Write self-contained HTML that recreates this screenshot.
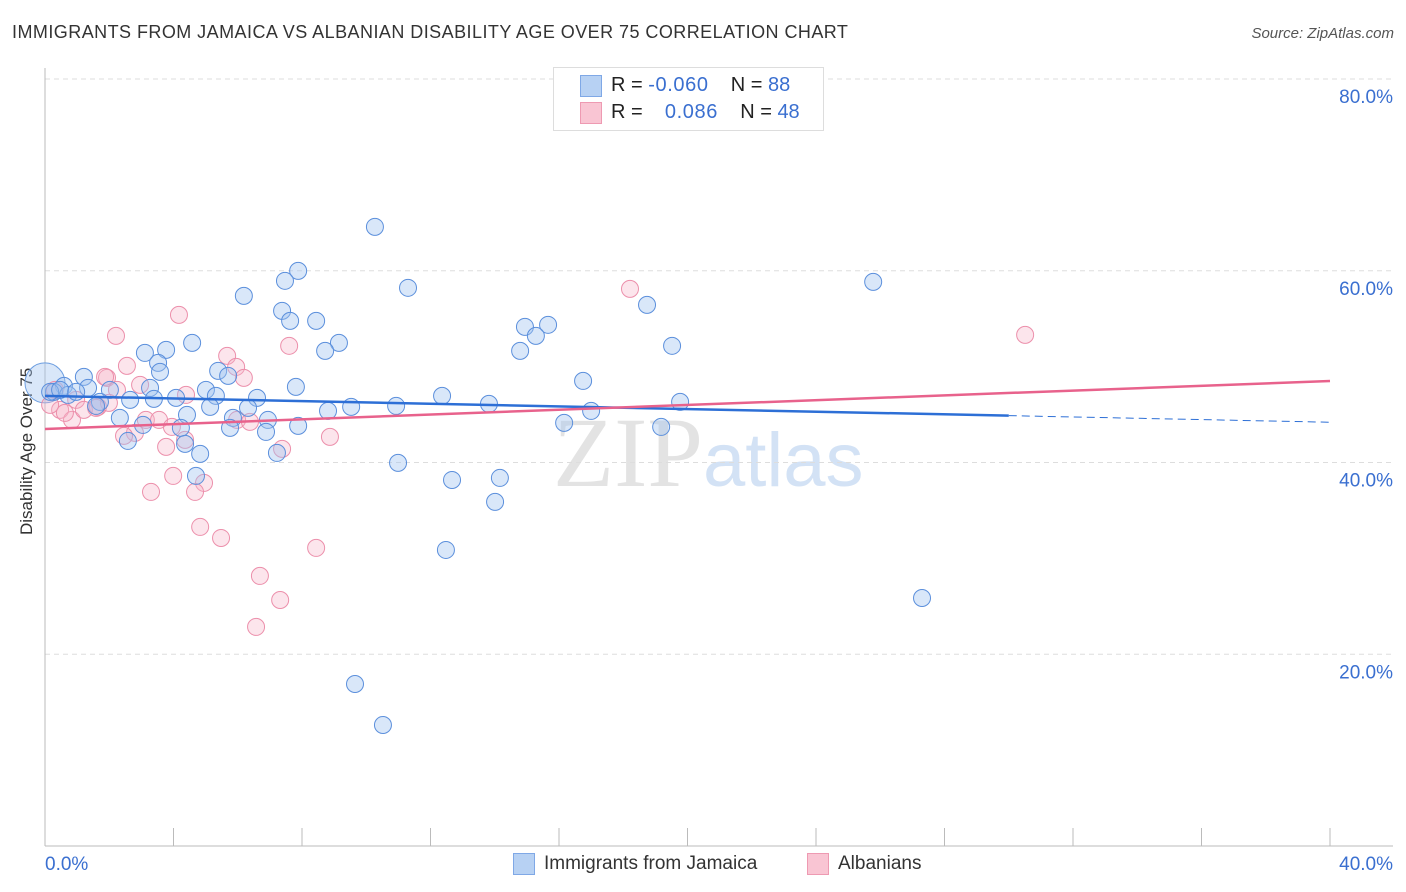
<!DOCTYPE html>
<html><head><meta charset="utf-8"><style>
body{margin:0;background:#fff;font-family:"Liberation Sans",sans-serif;}
#wrap{position:relative;width:1406px;height:892px;overflow:hidden;}
.t{position:absolute;white-space:nowrap;}
</style></head><body>
<div id="wrap">
<div class="t" style="left:12px;top:22px;font-size:18px;color:#333;letter-spacing:0.45px;">IMMIGRANTS FROM JAMAICA VS ALBANIAN DISABILITY AGE OVER 75 CORRELATION CHART</div>
<div class="t" style="right:12px;top:25px;font-size:15px;color:#555;font-style:italic;">Source: ZipAtlas.com</div>
<div class="t" style="left:-53px;top:445px;font-size:17px;color:#333;transform:rotate(-90deg);width:160px;text-align:center;">Disability Age Over 75</div>
<div class="t" style="left:553px;top:395px;font-size:100px;color:#e3e3e3;font-family:'Liberation Serif',serif;">ZIP<span style="font-family:'Liberation Sans',sans-serif;font-size:76px;color:#d3e2f5">atlas</span></div>
<svg id="svg" width="1406" height="892" style="position:absolute;left:0;top:0"></svg>
<div class="t" style="left:553px;top:67px;width:269px;height:62px;border:1px solid #ddd;background:#fff;"></div>
<div style="position:absolute;left:580px;top:75px;width:20px;height:20px;background:#b7d1f3;border:1px solid #7fa8e6;"></div>
<div style="position:absolute;left:580px;top:102px;width:20px;height:20px;background:#f9c5d3;border:1px solid #ee9ab2;"></div>
<div class="t" style="left:611px;top:74px;font-size:20px;color:#222;">R = <span style="color:#3a6fd0;letter-spacing:0.6px">-0.060</span>&nbsp;&nbsp;&nbsp;&nbsp;N = <span style="color:#3a6fd0">88</span></div>
<div class="t" style="left:611px;top:101px;font-size:20px;color:#222;">R = &nbsp;&nbsp;&nbsp;<span style="color:#3a6fd0;letter-spacing:0.6px">0.086</span>&nbsp;&nbsp;&nbsp;&nbsp;N = <span style="color:#3a6fd0">48</span></div>
<div style="position:absolute;left:513px;top:853px;width:20px;height:20px;background:#b7d1f3;border:1px solid #7fa8e6;"></div>
<div class="t" style="left:544px;top:853px;font-size:19px;color:#333;">Immigrants from Jamaica</div>
<div style="position:absolute;left:807px;top:853px;width:20px;height:20px;background:#f9c5d3;border:1px solid #ee9ab2;"></div>
<div class="t" style="left:838px;top:853px;font-size:19px;color:#333;">Albanians</div>
</div>
<script>
const xTicks=[0,40];
const yTicks=[20,40,60,80];
const blueX=[10.27,7.88,7.47,6.19,11.30,25.78,7.38,7.63,8.44,18.74,14.94,15.66,15.28,19.52,9.15,8.72,14.79,4.58,3.77,3.11,3.52,3.58,5.39,5.70,7.81,16.75,1.21,0.59,1.34,2.02,3.27,5.01,12.36,6.60,5.32,4.08,3.39,2.65,0.28,0.72,1.71,5.14,6.32,13.82,19.77,8.81,9.53,10.93,17.00,4.42,2.33,5.85,6.94,7.88,16.16,19.18,3.05,4.23,5.76,6.88,2.58,4.36,7.22,4.83,10.99,12.67,14.16,4.70,14.01,12.48,27.30,9.65,10.52,0.16,0.47,0.97,1.59];
const blueY=[64.58,59.99,58.95,57.38,58.22,58.84,55.82,54.77,54.77,56.44,54.15,54.36,53.21,52.17,52.48,51.64,51.64,52.48,51.75,51.43,50.39,49.45,49.56,49.04,47.89,48.51,48.93,47.99,47.78,47.57,47.78,47.57,46.95,46.74,46.95,46.74,46.64,46.53,47.37,47.05,46.32,45.80,45.70,46.11,46.32,45.38,45.80,45.90,45.38,44.97,44.65,44.65,44.44,43.82,44.13,43.71,43.92,43.61,43.61,43.19,42.25,41.94,41.00,40.90,39.96,38.18,38.39,38.60,35.89,30.88,25.87,16.90,12.62,47.37,47.57,47.37,45.90];
const pinkX=[18.21,4.17,2.21,7.60,5.67,2.55,1.93,5.95,6.19,2.96,2.24,30.51,4.39,0.97,1.65,1.99,0.47,0.84,1.21,1.59,3.14,3.55,5.98,3.95,2.80,4.36,8.87,3.77,7.38,3.99,4.95,3.30,4.67,4.83,5.48,8.44,6.69,7.32,6.57,0.16,0.31,0.62,1.87,6.38,2.46];
const pinkY=[58.11,55.40,53.21,52.17,51.12,50.08,48.83,49.97,48.83,48.10,47.57,53.31,47.05,46.53,45.80,46.22,45.49,44.44,45.49,45.70,44.44,44.44,44.44,43.71,43.09,42.36,42.67,41.63,41.42,38.60,37.87,36.93,36.93,33.28,32.13,31.09,28.17,25.66,22.85,46.01,47.57,45.17,48.93,44.24,42.78];
const blueTrend=[46.95,44.2];
const pinkTrend=[43.5,48.5];
const X=v=>45+v/40*1285, Y=v=>846-v/80*767;
const s=document.getElementById('svg'),NS='http://www.w3.org/2000/svg';
function mk(t,a){const e=document.createElementNS(NS,t);for(const k in a)e.setAttribute(k,a[k]);s.appendChild(e);return e;}
yTicks.forEach(v=>{
const g=mk('line',{x1:45,x2:1393,y1:Y(v),y2:Y(v),stroke:'#ddd','stroke-dasharray':'5,4'});


const t=mk('text',{x:1393,y:Y(v)+24,'text-anchor':'end','font-size':19,fill:'#3a6fd0','font-family':'Liberation Sans'});t.textContent=v.toFixed(1)+'%';


});
const ax=mk('line',{x1:45,x2:45,y1:68,y2:846,stroke:'#bbb'});


const bx=mk('line',{x1:45,x2:1393,y1:846,y2:846,stroke:'#bbb'});


for(let i=0;i<=10;i++){const tk=mk('line',{x1:X(i*4),x2:X(i*4),y1:828,y2:846,stroke:'#bbb'});

}
xTicks.forEach((v,i)=>{const t=mk('text',{x:i?1393:45,y:870,'text-anchor':i?'end':'start','font-size':19,fill:'#3a6fd0','font-family':'Liberation Sans'});t.textContent=v.toFixed(1)+'%';

});
const big=mk('circle',{cx:X(0),cy:Y(48.3),r:20,fill:'rgba(160,195,240,0.4)',stroke:'#6d9ee0','stroke-width':1});


pinkX.forEach((x,i)=>{const c=mk('circle',{cx:X(x),cy:Y(pinkY[i]),r:8.5,fill:'rgba(246,180,200,0.35)',stroke:'#ec8fab','stroke-width':1});

});
blueX.forEach((x,i)=>{const c=mk('circle',{cx:X(x),cy:Y(blueY[i]),r:8.5,fill:'rgba(160,195,240,0.4)',stroke:'#5b8fdc','stroke-width':1});

});
const bl=v=>blueTrend[0]+(blueTrend[1]-blueTrend[0])*v/40;
let l=mk('line',{x1:X(0),y1:Y(bl(0)),x2:X(30),y2:Y(bl(30)),stroke:'#2d6fd6','stroke-width':2.5});


l=mk('line',{x1:X(30),y1:Y(bl(30)),x2:X(40),y2:Y(bl(40)),stroke:'#2d6fd6','stroke-width':1,'stroke-dasharray':'8,5'});


l=mk('line',{x1:X(0),y1:Y(pinkTrend[0]),x2:X(40),y2:Y(pinkTrend[1]),stroke:'#e8628c','stroke-width':2.5});


</script>
</body></html>
